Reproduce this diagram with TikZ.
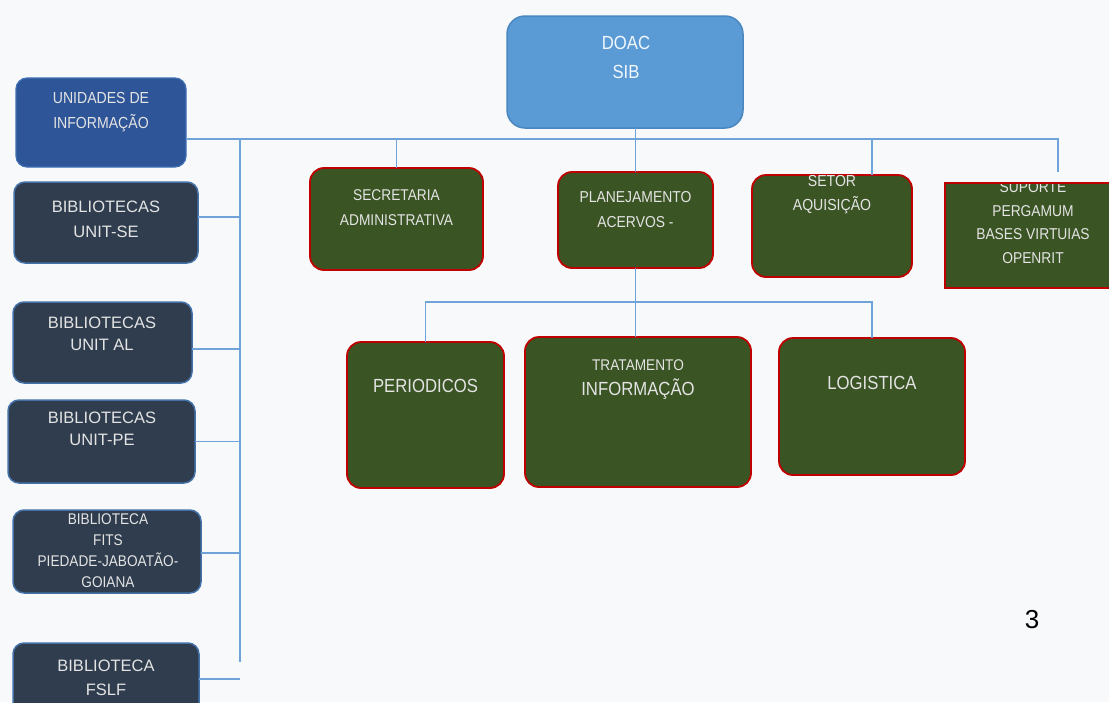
\documentclass[tikz,border=0pt]{standalone}
\usepackage{fontspec}
\setmainfont{Liberation Sans}
\newfontfamily\narrowfont[FakeStretch=0.88]{Liberation Sans}
\definecolor{bgc}{HTML}{F8F9FA}
\definecolor{connc}{HTML}{6FA3DA}
\definecolor{unifill}{HTML}{2E5597}
\definecolor{unidraw}{HTML}{4070B5}
\definecolor{darkfill}{HTML}{2F3D4E}
\definecolor{darkdraw}{HTML}{4472A8}
\definecolor{doacfill}{HTML}{5B9BD5}
\definecolor{doacdraw}{HTML}{4A86C0}
\definecolor{greenfill}{HTML}{3A5424}
\definecolor{reddraw}{HTML}{C00000}
\definecolor{txtc}{HTML}{E4E4E4}
\tikzset{
  boxbase/.style={inner sep=0pt, outer sep=0pt},
  unibox/.style={boxbase, draw=unidraw, fill=unifill, line width=1.2pt, rounded corners=11pt},
  darkbox/.style={boxbase, draw=darkdraw, fill=darkfill, line width=1.5pt, rounded corners=11pt},
  doacbox/.style={boxbase, draw=doacdraw, fill=doacfill, line width=1.5pt, rounded corners=18pt},
  greenbox/.style={boxbase, draw=reddraw, fill=greenfill, line width=1.8pt, rounded corners=14pt},
  greensq/.style={boxbase, draw=reddraw, fill=greenfill, line width=1.8pt},
  lbl/.style={inner sep=0pt, align=center, text=txtc},
  conn/.style={draw=connc, line width=1.8pt},
}
\begin{document}
\begin{tikzpicture}[x=1pt,y=-1pt]
\useasboundingbox (0,0) rectangle (1109,702);
\clip (0,0) rectangle (1109,702);
\fill[bgc] (0,0) rectangle (1109,702);

% coordinates for connector lines
\coordinate (hbar) at (0,139);
\coordinate (lv2) at (0,302);
\coordinate (trunk) at (240,662);
\coordinate (supTick) at (1058,172);

% left column boxes
\node[unibox, minimum width=170pt, minimum height=89pt] (unid) at (101,122.5) {};
\node[darkbox, minimum width=184pt, minimum height=81pt] (unitse) at (106,222.5) {};
\node[darkbox, minimum width=179pt, minimum height=81pt] (unital) at (102.5,342.5) {};
\node[darkbox, minimum width=187pt, minimum height=83pt] (unitpe) at (101.5,441.5) {};
\node[darkbox, minimum width=188pt, minimum height=83pt] (fits) at (107,551.5) {};
\node[darkbox, minimum width=186pt, minimum height=79pt] (fslf) at (106,682.5) {};

% top
\node[doacbox, minimum width=236pt, minimum height=112pt] (doac) at (625,72) {};

% first level
\node[greenbox, minimum width=173pt, minimum height=102pt] (sec) at (396.5,219) {};
\node[greenbox, minimum width=155pt, minimum height=96pt] (plan) at (635.5,220) {};
\node[greenbox, minimum width=160pt, minimum height=102pt] (setor) at (832,226) {};
\node[greensq, minimum width=176pt, minimum height=105pt] (sup) at (1033,235.5) {};

% second level
\node[greenbox, minimum width=157pt, minimum height=146pt] (per) at (425.5,415) {};
\node[greenbox, minimum width=226pt, minimum height=150pt] (trat) at (638,412) {};
\node[greenbox, minimum width=186pt, minimum height=137pt] (log) at (872,406.5) {};

% connectors
\draw[conn] (unid.east |- hbar) -- (supTick |- hbar) -- (supTick);
\draw[conn] (trunk |- hbar) -- (trunk);
\draw[conn] ([yshift=5.5pt]unitse.east) -- ([yshift=5.5pt]unitse.east -| trunk);
\draw[conn] ([yshift=-6.5pt]unital.east) -- ([yshift=-6.5pt]unital.east -| trunk);
\draw[conn] (unitpe.east) -- (unitpe.east -| trunk);
\draw[conn] ([yshift=-1.5pt]fits.east) -- ([yshift=-1.5pt]fits.east -| trunk);
\draw[conn] ([yshift=3.5pt]fslf.east) -- ([yshift=3.5pt]fslf.east -| trunk);
\draw[conn] (doac.south -| plan.north) -- (plan.north);
\draw[conn] (sec.north) -- (sec.north |- hbar);
\draw[conn] ([xshift=40pt]setor.north) -- ([xshift=40pt]setor.north |- hbar);
\draw[conn] (plan.south) -- (plan.south |- trat.north);
\draw[conn] (per.north) -- (per.north |- lv2) -- (log.north |- lv2) -- (log.north);

% texts
\node[lbl, font=\narrowfont\fontsize{16}{25}\selectfont] (tunid) at (101,112) {UNIDADES DE\\INFORMAÇÃO};
\node[lbl, font=\fontsize{16.5}{25}\selectfont] (tunitse) at (106,219.5) {BIBLIOTECAS\\UNIT-SE};
\node[lbl, font=\fontsize{16.5}{22}\selectfont] (tunital) at (102,334) {BIBLIOTECAS\\UNIT AL};
\node[lbl, font=\fontsize{16.5}{22}\selectfont] (tunitpe) at (102,429) {BIBLIOTECAS\\UNIT-PE};
\node[lbl, font=\narrowfont\fontsize{15.5}{21}\selectfont] (tfits) at (108,550.5) {BIBLIOTECA\\FITS\\PIEDADE-JABOATÃO-\\GOIANA};
\node[lbl, font=\fontsize{16.5}{24}\selectfont] (tfslf) at (106,678) {BIBLIOTECA\\FSLF};
\node[lbl, text=white!92!doacfill, font=\narrowfont\fontsize{19}{29}\selectfont] (tdoac) at (626,57.5) {DOAC\\SIB};
\node[lbl, font=\narrowfont\fontsize{15.6}{25}\selectfont] (tsec) at (396.5,207.5) {SECRETARIA\\ADMINISTRATIVA};
\node[lbl, font=\narrowfont\fontsize{15.8}{25}\selectfont] (tplan) at (635.5,209.5) {PLANEJAMENTO\\ACERVOS -};
\begin{scope}
\clip (setor.north west) rectangle (setor.south east);
\node[lbl, font=\narrowfont\fontsize{16}{24}\selectfont] (tsetor) at (832,195) {SETOR\\AQUISIÇÃO};
\end{scope}
\begin{scope}
\clip ([yshift=-1pt]sup.north west) rectangle (sup.south east);
\node[lbl, font=\narrowfont\fontsize{15.7}{23.7}\selectfont] (tsup) at (1033,222.5) {SUPORTE\\PERGAMUM\\BASES VIRTUIAS\\OPENRIT};
\end{scope}
\node[lbl, font=\narrowfont\fontsize{19}{24}\selectfont] (tper) at (425.5,386) {PERIODICOS};
\node[lbl, font=\narrowfont\fontsize{15.5}{24}\selectfont] (ttrat) at (638,365) {TRATAMENTO};
\node[lbl, font=\narrowfont\fontsize{19}{24}\selectfont] (ttrat2) at (638,389) {INFORMAÇÃO};
\node[lbl, font=\narrowfont\fontsize{19}{24}\selectfont] (tlog) at (872,383) {LOGISTICA};
\node[inner sep=0pt, text=black, font=\fontsize{26}{30}\selectfont] (pnum) at (1032,620) {3};
\end{tikzpicture}
\end{document}
